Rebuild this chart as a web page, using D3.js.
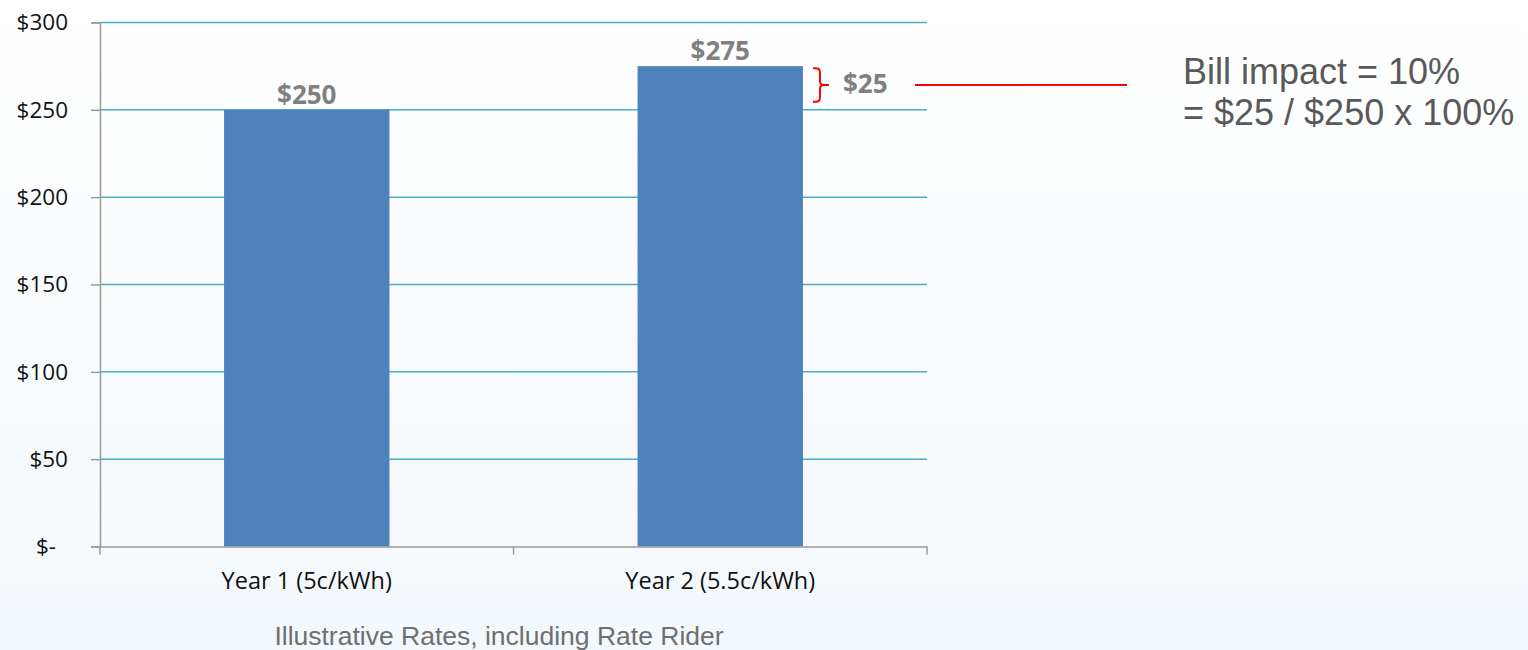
<!DOCTYPE html>
<html>
<head>
<meta charset="utf-8">
<script src="https://cdn.jsdelivr.net/npm/d3@7/dist/d3.min.js"></script>
<style>
  html, body { margin: 0; padding: 0; }
  body { width: 1528px; height: 650px; overflow: hidden; }
  svg { display: block; }
</style>
</head>
<body>
<svg id="chart" width="1528" height="650"></svg>
<script>
// Bill amounts per rate scenario
const categories = ["Year 1 (5c/kWh)", "Year 2 (5.5c/kWh)"];
const billValues = [250, 275];
const billLabels = ["$250", "$275"];
const yTickValues = [0, 50, 100, 150, 200, 250, 300];
const yTickLabels = ["$-", "$50", "$100", "$150", "$200", "$250", "$300"];
const increaseLabel = "$25";
const xAxisTitle = "Illustrative Rates, including Rate Rider";
const noteLines = ["Bill impact = 10%", "= $25 / $250 x 100%"];

(function drawChart() {
const W = 1528, H = 650;
const plot = { left: 100, right: 927, top: 22.5, bottom: 546.5 };

const svg = d3.select("#chart");

// soft vertical background wash
const defs = svg.append("defs");
const grad = defs.append("linearGradient").attr("id", "bg").attr("x1", 0).attr("y1", 0).attr("x2", 0).attr("y2", 1);
grad.append("stop").attr("offset", "0%").attr("stop-color", "#ffffff");
grad.append("stop").attr("offset", "100%").attr("stop-color", "#f3f8fc");
svg.append("rect").attr("width", W).attr("height", H).attr("fill", "url(#bg)");

const x = d3.scaleBand()
  .domain(categories)
  .range([plot.left, plot.right])
  .paddingInner(0.6)
  .paddingOuter(0.3);

const y = d3.scaleLinear().domain([0, 300]).range([plot.bottom, plot.top]);

const labelFont = "'Open Sans', 'Noto Sans', sans-serif";

// horizontal gridlines
svg.append("g")
  .selectAll("line")
  .data(yTickValues.filter(v => v > 0))
  .join("line")
  .attr("x1", plot.left).attr("x2", plot.right)
  .attr("y1", d => y(d)).attr("y2", d => y(d))
  .attr("stroke", "#4bacc6").attr("stroke-width", 1.5);

// bars
svg.append("g")
  .selectAll("rect")
  .data(billValues)
  .join("rect")
  .attr("x", (d, i) => x(categories[i]))
  .attr("width", x.bandwidth())
  .attr("y", d => y(d))
  .attr("height", d => y(0) - y(d))
  .attr("fill", "#4f81bd");

// y axis
const yAxis = d3.axisLeft(y)
  .tickValues(yTickValues)
  .tickFormat((d, i) => yTickLabels[i])
  .tickSize(9)
  .tickPadding(23);
const gy = svg.append("g").attr("transform", `translate(${plot.left},0)`).call(yAxis);
gy.select(".domain").attr("stroke", "#9a9a9a").attr("stroke-width", 1.5);
gy.selectAll(".tick line").attr("stroke", "#9a9a9a").attr("stroke-width", 1.5);
gy.selectAll(".tick text")
  .attr("font-family", labelFont).attr("font-size", 22.5).attr("fill", "#111")
  .attr("dx", d => d === 0 ? -12 : 0);

// x axis
const xAxis = d3.axisBottom(x).tickSize(0).tickPadding(26);
const gx = svg.append("g").attr("transform", `translate(0,${plot.bottom})`).call(xAxis);
gx.select(".domain").attr("stroke", "#9a9a9a").attr("stroke-width", 1.5);
gx.selectAll(".tick text")
  .attr("font-family", labelFont).attr("font-size", 23.5).attr("fill", "#111");
// category boundary ticks
const bounds = [plot.left, plot.left + x.step(), plot.right];
gx.append("g").selectAll("line").data(bounds).join("line")
  .attr("x1", d => d).attr("x2", d => d)
  .attr("y1", 0).attr("y2", 8)
  .attr("stroke", "#9a9a9a").attr("stroke-width", 1.5);

// value labels on bars
svg.append("g")
  .selectAll("text")
  .data(billValues)
  .join("text")
  .attr("x", (d, i) => x(categories[i]) + x.bandwidth() / 2)
  .attr("y", d => y(d) - 6)
  .attr("text-anchor", "middle")
  .attr("font-family", labelFont).attr("font-weight", 700).attr("font-size", 26)
  .attr("fill", "#808080")
  .text((d, i) => billLabels[i]);

// bracket showing the increase between the two bills
const bx = x(categories[1]) + x.bandwidth() + 10;
const bTop = y(billValues[1]) + 2;
const bBot = y(billValues[0]) - 8;
const bMid = (bTop + bBot) / 2;
const r = 4;
const bracket = d3.path();
bracket.moveTo(bx, bTop);
bracket.lineTo(bx + 3, bTop);
bracket.quadraticCurveTo(bx + 7, bTop, bx + 7, bTop + r);
bracket.lineTo(bx + 7, bMid - r);
bracket.quadraticCurveTo(bx + 7, bMid, bx + 11, bMid);
bracket.lineTo(bx + 16, bMid);
bracket.moveTo(bx + 11, bMid);
bracket.quadraticCurveTo(bx + 7, bMid, bx + 7, bMid + r);
bracket.lineTo(bx + 7, bBot - r);
bracket.quadraticCurveTo(bx + 7, bBot, bx + 3, bBot);
bracket.lineTo(bx, bBot);
svg.append("path").attr("d", bracket.toString())
  .attr("fill", "none").attr("stroke", "#ff0000").attr("stroke-width", 2);

svg.append("text")
  .attr("x", bx + 30).attr("y", bMid + 8)
  .attr("font-family", labelFont).attr("font-weight", 700).attr("font-size", 26)
  .attr("fill", "#808080")
  .text(increaseLabel);

// connector to the note
svg.append("line")
  .attr("x1", 915).attr("x2", 1127)
  .attr("y1", bMid).attr("y2", bMid)
  .attr("stroke", "#ff0000").attr("stroke-width", 2);

// note text
svg.append("g")
  .selectAll("text")
  .data(noteLines)
  .join("text")
  .attr("x", 1183)
  .attr("y", (d, i) => 84 + i * 41)
  .attr("font-family", "'Liberation Sans', Arial, sans-serif")
  .attr("font-size", 36)
  .attr("fill", "#595959")
  .text(d => d);

// axis title
svg.append("text")
  .attr("x", 499).attr("y", 645)
  .attr("text-anchor", "middle")
  .attr("font-family", "'Liberation Sans', Arial, sans-serif")
  .attr("font-size", 26.5)
  .attr("fill", "#6f6f6f")
  .text(xAxisTitle);
})();
</script>
</body>
</html>
